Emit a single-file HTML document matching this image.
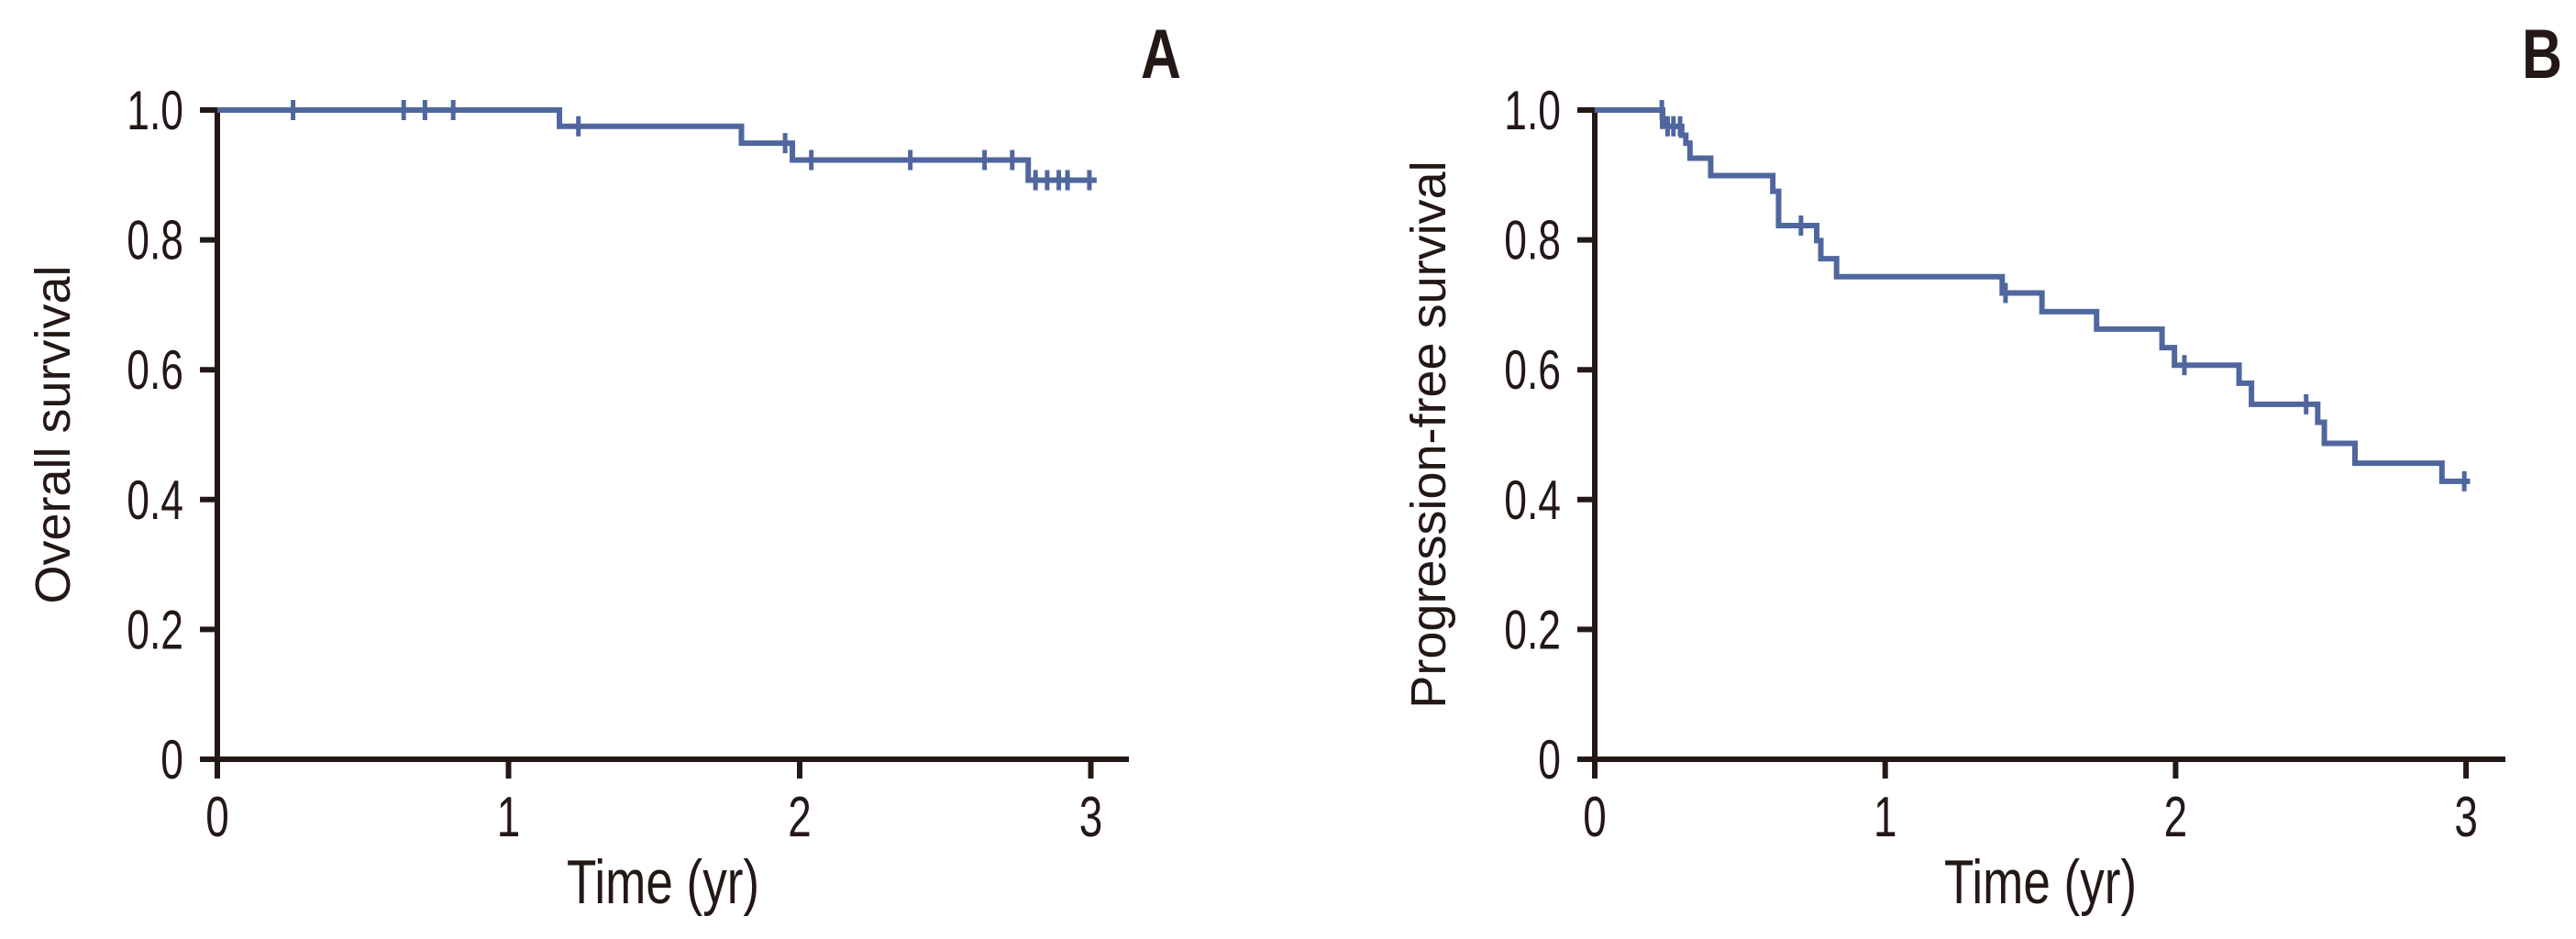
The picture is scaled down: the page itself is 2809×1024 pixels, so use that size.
<!DOCTYPE html>
<html><head><meta charset="utf-8"><style>
html,body{margin:0;padding:0;background:#fff;}
svg{display:block;}
text{font-family:"Liberation Sans",sans-serif;fill:#231815;}
</style></head><body>
<svg id="s" width="2809" height="1024" viewBox="0 0 2809 1024" xmlns="http://www.w3.org/2000/svg"></svg>
<script>
const S=document.getElementById('s');let h='';
const AX='#231815',LC='#4f679e';
function panel(x0,pxYr,axEnd,lab,labX,letter,letX,steps,cens,endT){
  const Y=s=>828-s*708, X=t=>x0+t*pxYr;
  h+=`<line x1="${x0}" y1="117" x2="${x0}" y2="831" stroke="${AX}" stroke-width="6"/>`;
  h+=`<line x1="${x0-3}" y1="828" x2="${axEnd}" y2="828" stroke="${AX}" stroke-width="6"/>`;
  for(let i=0;i<=5;i++){const y=Y(i*0.2);
    h+=`<line x1="${x0-19}" y1="${y}" x2="${x0}" y2="${y}" stroke="${AX}" stroke-width="6"/>`;
    const t=i==0?'0':(i*0.2).toFixed(1);
    h+=`<text transform="translate(${x0-37},${y+21}) scale(0.74,1)" font-size="60" text-anchor="end">${t}</text>`;}
  for(let i=0;i<=3;i++){const x=X(i);
    h+=`<line x1="${x}" y1="828" x2="${x}" y2="849" stroke="${AX}" stroke-width="6"/>`;
    h+=`<text transform="translate(${x},912) scale(0.74,1)" font-size="62" text-anchor="middle">${i}</text>`;}
  h+=`<text transform="translate(${x0+486},985) scale(0.78,1)" font-size="68" text-anchor="middle">Time (yr)</text>`;
  h+=`<text transform="translate(${labX},474) rotate(-90)" font-size="54" text-anchor="middle">${lab}</text>`;
  h+=`<text transform="translate(${letX},85) scale(0.8,1)" font-size="76" font-weight="bold" text-anchor="middle">${letter}</text>`;
  let d=`M${X(0)},${Y(1)}`;
  for(const [t,v] of steps){d+=` H${X(t)} V${Y(v)}`;}
  d+=` H${X(endT)}`;
  h+=`<path d="${d}" fill="none" stroke="${LC}" stroke-width="6"/>`;
  for(const [t,v] of cens){h+=`<line x1="${X(t)}" y1="${Y(v)-11}" x2="${X(t)}" y2="${Y(v)+11}" stroke="${LC}" stroke-width="5"/>`;}
}
panel(237,317.5,1231,'Overall survival',76,'A',1266,
 [[1.175,0.975],[1.80,0.949],[1.975,0.923],[2.785,0.892]],
 [[0.26,1],[0.64,1],[0.713,1],[0.81,1],[1.24,0.975],[1.95,0.949],[2.04,0.923],[2.38,0.923],[2.635,0.923],[2.73,0.923],[2.81,0.892],[2.85,0.892],[2.89,0.892],[2.92,0.892],[2.995,0.892]],3.02);
const zx=x=>(x-375)/350.7, zy=y=>(1262-y)/1079;
const bs=[[457,210],[480,225],[485,238],[490,263],[515,292],[590,318],[597,375],[643,400],[648,430],[667,460],[867,487],[915,518],[981,547],[1060,578],[1075,607],[1153,637],[1168,672],[1248,702],[1256,737],[1293,770],[1398,800]].map(([a,b])=>[zx(a),zy(b)]);
const bc=[[456,183],[463,210],[470,210],[478,210],[624,375],[871,487],[1087,607],[1234,672],[1425,800]].map(([a,b])=>[zx(a),zy(b)]);
panel(1739,316.7,2732,'Progression-free survival',1576,'B',2772,bs,bc,zx(1432));
S.innerHTML=h;
</script>
</body></html>
